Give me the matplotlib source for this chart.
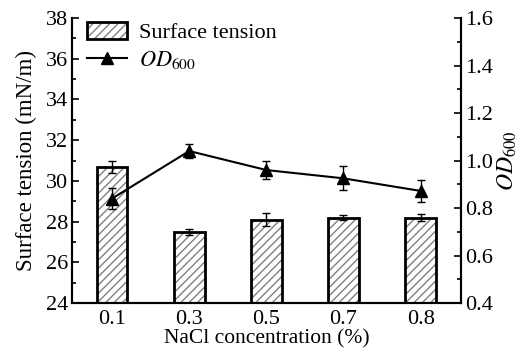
import numpy as np
import matplotlib
matplotlib.use('Agg')
import matplotlib.pyplot as plt
from matplotlib.patches import Patch
from matplotlib.lines import Line2D
from matplotlib.legend_handler import HandlerTuple
from matplotlib.ticker import MultipleLocator

plt.rcParams['font.family'] = 'Liberation Serif'
plt.rcParams['mathtext.fontset'] = 'stix'

nacl = ['0.1', '0.3', '0.5', '0.7', '0.8']
tension = [30.7, 27.5, 28.1, 28.2, 28.2]
tension_err = [0.3, 0.15, 0.3, 0.1, 0.15]
od600 = [0.84, 1.04, 0.96, 0.925, 0.872]
od600_err = [0.045, 0.03, 0.037, 0.05, 0.045]


def main():
    fig = plt.figure(figsize=(5.29, 3.54), dpi=100)
    ax = fig.add_axes([0.136, 0.144, 0.735, 0.805])
    x = np.arange(len(nacl))

    # hatch drawn in gray first, black outline on top
    ax.bar(x, np.array(tension) - 24, bottom=24, width=0.4, color='white',
           edgecolor='#808080', hatch='////', linewidth=0, zorder=2)
    ax.bar(x, np.array(tension) - 24, bottom=24, width=0.4, fill=False,
           edgecolor='black', linewidth=2, zorder=3)
    ax.errorbar(x, tension, yerr=tension_err, fmt='none', ecolor='black',
                elinewidth=1, capsize=3, capthick=1, zorder=4)

    ax.set_xlim(-0.52, 4.52)
    ax.set_ylim(24, 38)
    ax.set_xticks(x)
    ax.set_xticklabels(nacl)
    ax.yaxis.set_major_locator(MultipleLocator(2))
    ax.yaxis.set_minor_locator(MultipleLocator(1))
    ax.tick_params(direction='in', labelsize=16, width=1.2, length=5, pad=3)
    ax.tick_params(which='minor', direction='in', width=1.2, length=3)
    ax.tick_params(axis='x', length=0, pad=5)
    ax.set_xlabel('NaCl concentration (%)', fontsize=15.5, labelpad=0)
    ax.set_ylabel('Surface tension (mN/m)', fontsize=16.5, labelpad=6)

    ax2 = ax.twinx()
    ax2.errorbar(x, od600, yerr=od600_err, color='black', marker='^',
                 markersize=8, linewidth=1.5, elinewidth=1, capsize=3,
                 capthick=1, zorder=5)
    ax2.set_ylim(0.4, 1.6)
    ax2.yaxis.set_major_locator(MultipleLocator(0.2))
    ax2.yaxis.set_minor_locator(MultipleLocator(0.1))
    ax2.yaxis.set_major_formatter(plt.FormatStrFormatter('%.1f'))
    ax2.tick_params(direction='in', labelsize=16, width=1.2, length=5, pad=3)
    ax2.tick_params(which='minor', direction='in', width=1.2, length=3)
    ax2.set_ylabel('$OD_{600}$', fontsize=17, labelpad=2)

    for a in (ax, ax2):
        a.spines['top'].set_visible(False)
        for s in ('left', 'right', 'bottom'):
            a.spines[s].set_linewidth(1.5)

    hatch_patch = Patch(facecolor='white', edgecolor='#808080', hatch='////', linewidth=0)
    edge_patch = Patch(fill=False, edgecolor='black', linewidth=2)
    od_line = Line2D([], [], color='black', marker='^', markersize=8, linewidth=1.5)
    ax.legend([(hatch_patch, edge_patch), od_line],
              ['Surface tension', '$OD_{600}$'],
              handler_map={tuple: HandlerTuple(ndivide=1, pad=0)},
              loc='upper left', bbox_to_anchor=(0.0, 1.04), frameon=False,
              fontsize=16, handlelength=1.8, handleheight=0.8,
              handletextpad=0.5, labelspacing=0.25, borderaxespad=0.3)

    fig.savefig('out.png', dpi=100)


if __name__ == "__main__":
    main()
